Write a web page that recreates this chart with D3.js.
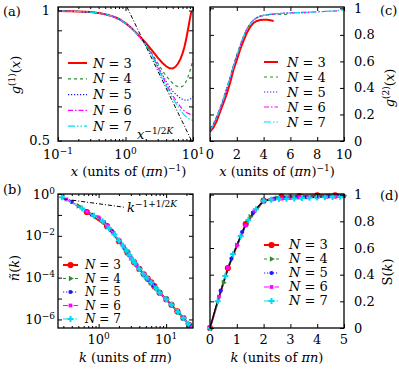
<!DOCTYPE html>
<html>
<head>
<meta charset="utf-8">
<script src="https://cdn.jsdelivr.net/npm/d3@7"></script>
<style>
body { margin: 0; background: #fff; }
svg text { font-family: "DejaVu Serif", serif; fill: #000; }
</style>
</head>
<body>
<svg id="fig" width="399" height="369"></svg>
<script>
// ---- data ----
var nList = [3, 4, 5, 6, 7];

// (a) one-body correlation g1(x), shared x grid
var g1X = [0.1,0.15,0.2,0.3,0.4,0.5,0.6,0.7,0.8,1,1.2,1.5,2,2.5,3,3.5,4,4.5,5,5.5,6,6.5,7,7.5,8,8.5,9,9.5,10];
var g1N3 = [0.997,0.996,0.995,0.992,0.987,0.98,0.973,0.965,0.956,0.935,0.914,0.883,0.842,0.807,0.778,0.757,0.743,0.735,0.734,0.741,0.754,0.772,0.796,0.826,0.865,0.91,0.958,0.997,null];
var g1N4 = [0.997,0.996,0.995,0.992,0.987,0.98,0.973,0.965,0.956,0.935,0.913,0.881,0.836,0.792,0.756,0.727,0.706,0.69,0.679,0.671,0.666,0.665,0.668,0.675,0.688,0.705,0.724,0.746,0.77];
var g1N5 = [0.997,0.996,0.995,0.992,0.987,0.98,0.973,0.965,0.956,0.935,0.913,0.881,0.834,0.789,0.747,0.712,0.686,0.666,0.651,0.641,0.633,0.627,0.623,0.621,0.62,0.621,0.623,0.627,0.632];
var g1N6 = [0.997,0.996,0.995,0.992,0.987,0.98,0.973,0.965,0.956,0.935,0.913,0.88,0.833,0.786,0.741,0.705,0.676,0.654,0.636,0.621,0.609,0.599,0.591,0.585,0.581,0.578,0.576,0.575,0.576];
var g1N7 = [0.997,0.996,0.995,0.992,0.987,0.98,0.973,0.965,0.956,0.935,0.913,0.88,0.832,0.784,0.738,0.701,0.671,0.647,0.628,0.612,0.599,0.588,0.579,0.572,0.567,0.563,0.56,0.558,0.557];
var g1Power = [[1.05, 1.019], [9.5, 0.5]];

// (c) pair correlation g2(x)
var g2X = [0,0.25,0.5,0.75,1,1.25,1.5,1.75,2,2.25,2.5,2.75,3,3.25,3.5,3.75,4,4.25,4.5,4.75,5,5.5,6,6.5,7,7.5,8,8.5,9,9.5,10];
var g2N3 = [0.07,0.1,0.15,0.22,0.285,0.355,0.44,0.535,0.61,0.69,0.755,0.815,0.86,0.89,0.905,0.912,0.914,0.913,0.91,0.905,null,null,null,null,null,null,null,null,null,null,null];
var g2N4 = [0.09,0.13,0.185,0.25,0.32,0.4,0.48,0.57,0.65,0.72,0.79,0.845,0.885,0.912,0.93,0.94,0.946,0.95,0.952,0.955,0.957,0.953,0.958,null,null,null,null,null,null,null,null];
var g2N5 = [0.085,0.125,0.18,0.245,0.315,0.395,0.475,0.565,0.645,0.72,0.788,0.843,0.884,0.912,0.93,0.941,0.948,0.952,0.955,0.957,0.959,0.962,0.965,0.967,0.965,0.968,null,null,null,null,null];
var g2N6 = [0.08,0.12,0.178,0.243,0.313,0.393,0.474,0.563,0.643,0.718,0.786,0.842,0.883,0.911,0.93,0.941,0.948,0.952,0.955,0.957,0.96,0.963,0.966,0.968,0.97,0.972,0.974,0.976,0.978,0.981,null];
var g2N7 = [0.08,0.12,0.177,0.242,0.312,0.392,0.473,0.562,0.642,0.717,0.785,0.841,0.882,0.91,0.929,0.94,0.947,0.951,0.954,0.956,0.959,0.962,0.965,0.967,0.969,0.971,0.973,0.976,0.979,0.983,0.988];

// (b) momentum distribution n(k)
var nkK3 = [0.667,1.333,2,2.667,3.333,4,4.667,5.333,6,6.667,8,10,12,14.67,18,22,24.67];
var nkV3 = [0.138,0.029,0.0055,0.0016,5.6e-4,2.6e-4,1.45e-4,8.9e-5,5.9e-5,3.9e-5,1.9e-5,9.3e-6,5e-6,2.45e-6,1.17e-6,5.4e-7,3.6e-7];
var nkK4 = [0.5,1,1.5,2,2.5,3,3.5,4,5,6,7,8,10,12,15,18,21,24.5];
var nkV4 = [0.27,0.074,0.02,0.006,0.0022,8.9e-4,4.5e-4,2.6e-4,1.1e-4,5.9e-5,3.2e-5,1.9e-5,9.3e-6,5e-6,2.3e-6,1.17e-6,6.5e-7,3.7e-7];
var nkK5 = [0.4,0.8,1.2,1.6,2,2.4,2.8,3.2,3.6,4,4.8,5.6,6.4,7.2,8,10,12,15.2,18.4,22,24.8];
var nkV5 = [0.42,0.1,0.045,0.016,0.006,0.0026,0.0012,6.6e-4,4.1e-4,2.6e-4,1.25e-4,7.2e-5,4.5e-5,2.9e-5,1.9e-5,9.3e-6,5e-6,2.2e-6,1.1e-6,5.4e-7,3.6e-7];
var nkK6 = [0.333,0.667,1,1.333,1.667,2,2.333,2.667,3,3.333,3.667,4,4.667,5.333,6,7,8,10,12,15,18,21.33,24.67];
var nkV6 = [0.55,0.14,0.075,0.03,0.0135,0.006,0.0031,0.0017,9e-4,5.7e-4,3.8e-4,2.6e-4,1.45e-4,9e-5,5.9e-5,3.2e-5,1.9e-5,9.3e-6,5e-6,2.3e-6,1.17e-6,6e-7,3.6e-7];
var nkK7 = [0.286,0.571,0.857,1.143,1.429,1.714,2,2.286,2.571,2.857,3.143,3.429,4,4.571,5.143,6,7.143,8,10,12,15,18,21.14,24.57];
var nkV7 = [0.7,0.2,0.09,0.05,0.023,0.0115,0.006,0.0034,0.002,0.0012,7.4e-4,5.1e-4,2.6e-4,1.55e-4,1e-4,5.9e-5,3e-5,1.9e-5,9.3e-6,5e-6,2.3e-6,1.17e-6,6.2e-7,3.7e-7];
var nkPower = [[0.3, 0.58], [2.45, 0.23]];

// (d) static structure factor S(k)
var skK3 = [0,0.667,1.333,2,2.667,3.333,4,4.667];
var skV3 = [0,0.45,0.78,0.955,0.985,0.99,0.995,0.995];
var skK4 = [0,0.5,1,1.5,2,2.5,3,3.5,4,4.5,5];
var skV4 = [0,0.34,0.62,0.835,0.955,0.975,0.985,0.985,0.99,0.99,0.992];
var skK5 = [0,0.4,0.8,1.2,1.6,2,2.4,2.8,3.2,3.6,4,4.4,4.8];
var skV5 = [0,0.28,0.52,0.72,0.865,0.955,0.97,0.975,0.98,0.982,0.985,0.987,0.99];
var skK6 = [0,0.333,0.667,1,1.333,1.667,2,2.333,2.667,3,3.333,3.667,4,4.333,4.667,5];
var skV6 = [0,0.235,0.45,0.62,0.77,0.88,0.955,0.965,0.97,0.975,0.978,0.98,0.982,0.984,0.986,0.988];
var skK7 = [0,0.286,0.571,0.857,1.143,1.429,1.714,2,2.286,2.571,2.857,3.143,3.429,3.714,4,4.286,4.571,4.857];
var skV7 = [0,0.2,0.39,0.555,0.69,0.81,0.89,0.955,0.962,0.967,0.97,0.972,0.975,0.977,0.979,0.981,0.983,0.985];
var skRefK = [0,0.25,0.5,0.75,1,1.25,1.5,1.75,2,2.5,3,3.5,4,4.5,5];
var skRefV = [0,0.18,0.34,0.49,0.62,0.74,0.83,0.9,0.955,0.965,0.972,0.978,0.982,0.986,0.99];

// ---- styles ----
var colorOf = {3: "#ff0000", 4: "#2e8b2e", 5: "#1a1aff", 6: "#ff00ff", 7: "#00dcec"};
var dashOf = {3: null, 4: "3,3", 5: "1.2,1.8", 6: "5,2,1.5,2", 7: "7,2,1.5,2,1.5,2"};
var widthOf = {3: 2, 4: 1.2, 5: 1.2, 6: 1.2, 7: 1.2};
var symOf = {
    3: d3.symbol().type(d3.symbolCircle).size(30),
    4: d3.symbol().type(d3.symbolTriangle).size(14),
    5: d3.symbol().type(d3.symbolCircle).size(14),
    6: d3.symbol().type(d3.symbolSquare).size(14),
    7: d3.symbol().type(d3.symbolCross).size(20)
};
var FONT = "DejaVu Serif";

var svg = d3.select("#fig");

// text with italic / superscript pieces
function rich(parent, x, y, parts, size, anchor) {
    var t = parent.append("text")
        .attr("x", x).attr("y", y)
        .attr("font-family", FONT)
        .style("font-size", size + "px")
        .attr("text-anchor", anchor || "start");
    var up = 0;
    parts.forEach(function (p) {
        var f = p[1] || "";
        var s = t.append("tspan").text(p[0]);
        var want = f.indexOf("s") >= 0 ? -Math.round(size * 0.42) : 0;
        if (want !== up) { s.attr("dy", want - up); up = want; }
        if (f.indexOf("s") >= 0) s.style("font-size", Math.round(size * 0.72) + "px");
        if (f.indexOf("i") >= 0) s.style("font-style", "italic");
    });
    return t;
}

function plain(x, y, str, anchor) {
    return svg.append("text").attr("x", x).attr("y", y)
        .attr("text-anchor", anchor || "start")
        .attr("font-family", FONT).style("font-size", fs + "px")
        .text(str);
}

function clean(g) {
    g.select(".domain").remove();
    g.selectAll(".tick line").attr("stroke", "#000").attr("stroke-width", 1);
}

// inward ticks on both sides of the frame
function ticksX(x, vals, y0, y1, len) {
    svg.append("g").attr("transform", "translate(0," + y1 + ")")
        .call(d3.axisBottom(x).tickValues(vals).tickSize(-len).tickFormat("")).call(clean);
    svg.append("g").attr("transform", "translate(0," + y0 + ")")
        .call(d3.axisTop(x).tickValues(vals).tickSize(-len).tickFormat("")).call(clean);
}
function ticksY(y, vals, x0, x1, len) {
    svg.append("g").attr("transform", "translate(" + x0 + ",0)")
        .call(d3.axisLeft(y).tickValues(vals).tickSize(-len).tickFormat("")).call(clean);
    svg.append("g").attr("transform", "translate(" + x1 + ",0)")
        .call(d3.axisRight(y).tickValues(vals).tickSize(-len).tickFormat("")).call(clean);
}

function frame(x0, x1, y0, y1) {
    svg.append("rect").attr("x", x0).attr("y", y0)
        .attr("width", x1 - x0).attr("height", y1 - y0)
        .attr("fill", "none").attr("stroke", "#000").attr("stroke-width", 1.3);
}

function clip(id, x0, x1, y0, y1) {
    svg.append("clipPath").attr("id", id).append("rect")
        .attr("x", x0).attr("y", y0).attr("width", x1 - x0).attr("height", y1 - y0);
    return svg.append("g").attr("clip-path", "url(#" + id + ")");
}

function styleLine(path, n) {
    path.attr("fill", "none").attr("stroke", colorOf[n])
        .attr("stroke-width", widthOf[n])
        .attr("stroke-dasharray", dashOf[n]);
}

function powLabel(exp) { return [["10", ""], [exp, "s"]]; }

var L = {x0: 58, x1: 193}, R = {x0: 210, x1: 344};
var T = {y0: 7, y1: 141}, B = {y0: 194, y1: 328};
var fs = 13;

// ================= (a) =================
var xa = d3.scaleLog().domain([0.1, 10]).range([L.x0, L.x1]);
var ya = d3.scaleLog().domain([0.499, 1.019]).range([T.y1, T.y0]);
var ga = clip("ca", L.x0, L.x1, T.y0, T.y1);
var g1Series = {3: g1N3, 4: g1N4, 5: g1N5, 6: g1N6, 7: g1N7};
var lineA = d3.line().defined(function (d) { return d[1] != null; })
    .x(function (d) { return xa(d[0]); }).y(function (d) { return ya(d[1]); });
nList.forEach(function (n) {
    styleLine(ga.append("path").datum(d3.zip(g1X, g1Series[n])).attr("d", lineA), n);
});
ga.append("path").datum(g1Power).attr("d", lineA)
    .attr("fill", "none").attr("stroke", "#000").attr("stroke-width", 1)
    .attr("stroke-dasharray", "4,2,1,2");

ticksX(xa, [0.1, 1, 10], T.y0, T.y1, 4);
ticksX(xa, xa.ticks().filter(function (v) { return [0.1, 1, 10].indexOf(v) < 0; }), T.y0, T.y1, 2);
ticksY(ya, [0.5, 0.6, 0.7, 0.8, 0.9, 1], L.x0, L.x1, 4);
frame(L.x0, L.x1, T.y0, T.y1);

[[0.1, "−1"], [1, "0"], [10, "1"]].forEach(function (d) {
    rich(svg, xa(d[0]), 159, powLabel(d[1]), fs, "middle");
});
plain(50, ya(1) + 4.5, "1", "end");
plain(50, ya(0.5) + 4.5, "0.5", "end");
rich(svg, 137, 139, [["x", "i"], ["−1/2", "s"], ["K", "si"]], fs);
rich(svg, (L.x0 + L.x1) / 2 + 3, 176, [["x", "i"], [" (units of (", ""], ["πn", "i"], [")", ""], ["−1", "s"], [")", ""]], fs, "middle");
rich(svg.append("g").attr("transform", "translate(16,75) rotate(-90)"), 0, 4,
    [["g", "i"], ["(1)", "s"], ["(", ""], ["x", "i"], [")", ""]], fs, "middle");
plain(3, 16, "(a)");

nList.forEach(function (n, i) {
    var yy = 63 + i * 15.8;
    styleLine(svg.append("line").attr("x1", 68).attr("x2", 87).attr("y1", yy).attr("y2", yy), n);
    rich(svg, 93, yy + 4.5, [["N", "i"], [" = " + n, ""]], fs);
});

// ================= (c) =================
var xc = d3.scaleLinear().domain([0, 10]).range([R.x0, R.x1]);
var yc = d3.scaleLinear().domain([0, 1.01]).range([T.y1, T.y0]);
var gc = clip("cc", R.x0, R.x1, T.y0, T.y1);
var g2Series = {3: g2N3, 4: g2N4, 5: g2N5, 6: g2N6, 7: g2N7};
var lineC = d3.line().defined(function (d) { return d[1] != null; })
    .x(function (d) { return xc(d[0]); }).y(function (d) { return yc(d[1]); });
nList.forEach(function (n) {
    styleLine(gc.append("path").datum(d3.zip(g2X, g2Series[n])).attr("d", lineC), n);
});
ticksX(xc, [0, 2, 4, 6, 8, 10], T.y0, T.y1, 4);
ticksY(yc, [0, 0.2, 0.4, 0.6, 0.8, 1], R.x0, R.x1, 4);
frame(R.x0, R.x1, T.y0, T.y1);
[0, 2, 4, 6, 8, 10].forEach(function (v) { plain(xc(v), 159, v, "middle"); });
[0, 0.2, 0.4, 0.6, 0.8, 1].forEach(function (v) { plain(354, yc(v) + 4.5, v); });
rich(svg, (R.x0 + R.x1) / 2, 176, [["x", "i"], [" (units of (", ""], ["πn", "i"], [")", ""], ["−1", "s"], [")", ""]], fs, "middle");
rich(svg.append("g").attr("transform", "translate(390,88) rotate(-90)"), 0, 4,
    [["g", "i"], ["(2)", "s"], ["(", ""], ["x", "i"], [")", ""]], fs, "middle");
plain(380, 15, "(c)");
nList.forEach(function (n, i) {
    var yy = 62 + i * 15;
    styleLine(svg.append("line").attr("x1", 264).attr("x2", 278).attr("y1", yy).attr("y2", yy), n);
    rich(svg, 287, yy + 4.5, [["N", "i"], [" = " + n, ""]], fs);
});

// ================= (b) =================
var xb = d3.scaleLog().domain([0.25, 25]).range([L.x0, L.x1]);
var yb = d3.scaleLog().domain([3.9e-7, 1]).range([B.y1, B.y0]);
var gb = clip("cb", L.x0, L.x1, B.y0, B.y1);
var nkSeries = {3: [nkK3, nkV3], 4: [nkK4, nkV4], 5: [nkK5, nkV5], 6: [nkK6, nkV6], 7: [nkK7, nkV7]};
var lineB = d3.line().x(function (d) { return xb(d[0]); }).y(function (d) { return yb(d[1]); });
nList.forEach(function (n) {
    var pts = d3.zip(nkSeries[n][0], nkSeries[n][1]);
    styleLine(gb.append("path").datum(pts).attr("d", lineB), n);
    gb.selectAll(null).data(pts).enter().append("path")
        .attr("d", symOf[n])
        .attr("transform", function (d) {
            return "translate(" + xb(d[0]) + "," + yb(d[1]) + ")" + (n == 4 ? " rotate(90)" : "");
        })
        .attr("fill", colorOf[n]);
});
gb.append("path").datum(nkPower).attr("d", lineB)
    .attr("fill", "none").attr("stroke", "#000").attr("stroke-width", 1)
    .attr("stroke-dasharray", "4,2,1,2");

var decadesB = [1, 1e-1, 1e-2, 1e-3, 1e-4, 1e-5, 1e-6];
ticksX(xb, [1, 10], B.y0, B.y1, 4);
ticksX(xb, xb.ticks().filter(function (v) { return v != 1 && v != 10; }), B.y0, B.y1, 2);
ticksY(yb, decadesB, L.x0, L.x1, 4);
frame(L.x0, L.x1, B.y0, B.y1);
[[1, "0"], [10, "1"]].forEach(function (d) {
    rich(svg, xb(d[0]), 344, powLabel(d[1]), fs, "middle");
});
[[1, "0"], [1e-2, "−2"], [1e-4, "−4"], [1e-6, "−6"]].forEach(function (d) {
    rich(svg, 55, yb(d[0]) + 4.5, powLabel(d[1]), fs, "end");
});
rich(svg, 127, 212, [["k", "i"], ["−1+1/2", "s"], ["K", "si"]], fs);
rich(svg, (L.x0 + L.x1) / 2, 362, [["k", "i"], [" (units of ", ""], ["πn", "i"], [")", ""]], fs, "middle");
rich(svg.append("g").attr("transform", "translate(15,268) rotate(-90)"), 0, 4,
    [["ñ", "i"], ["(", ""], ["k", "i"], [")", ""]], fs, "middle");
plain(3, 194, "(b)");

function legendMarks(x1, x2, tx, y0, dy, size) {
    nList.forEach(function (n, i) {
        var yy = y0 + i * dy;
        styleLine(svg.append("line").attr("x1", x1).attr("x2", x2).attr("y1", yy).attr("y2", yy), n);
        svg.append("path").attr("d", symOf[n])
            .attr("transform", "translate(" + ((x1 + x2) / 2) + "," + yy + ")" + (n == 4 ? " rotate(90)" : ""))
            .attr("fill", colorOf[n]);
        rich(svg, tx, yy + 4, [["N", "i"], [" = " + n, ""]], size);
    });
}
legendMarks(63, 78, 85, 265, 13.5, 12);

// ================= (d) =================
var xd = d3.scaleLinear().domain([0, 5]).range([R.x0, R.x1]);
var yd = d3.scaleLinear().domain([0, 1.005]).range([B.y1, B.y0]);
var gd = clip("cd", R.x0 - 4, R.x1 + 4, B.y0 - 4, B.y1 + 4);
var skSeries = {3: [skK3, skV3], 4: [skK4, skV4], 5: [skK5, skV5], 6: [skK6, skV6], 7: [skK7, skV7]};
var lineD = d3.line().x(function (d) { return xd(d[0]); }).y(function (d) { return yd(d[1]); });
nList.forEach(function (n) {
    styleLine(gd.append("path").datum(d3.zip(skSeries[n][0], skSeries[n][1])).attr("d", lineD), n);
});
gd.append("path").datum(d3.zip(skRefK, skRefV)).attr("d", lineD)
    .attr("fill", "none").attr("stroke", "#000").attr("stroke-width", 1.2);
nList.forEach(function (n) {
    gd.selectAll(null).data(d3.zip(skSeries[n][0], skSeries[n][1])).enter().append("path")
        .attr("d", symOf[n])
        .attr("transform", function (d) {
            return "translate(" + xd(d[0]) + "," + yd(d[1]) + ")" + (n == 4 ? " rotate(90)" : "");
        })
        .attr("fill", colorOf[n]);
});
ticksX(xd, [0, 1, 2, 3, 4, 5], B.y0, B.y1, 4);
ticksY(yd, [0, 0.2, 0.4, 0.6, 0.8, 1], R.x0, R.x1, 4);
frame(R.x0, R.x1, B.y0, B.y1);
[0, 1, 2, 3, 4, 5].forEach(function (v) { plain(xd(v), 344, v, "middle"); });
[0, 0.2, 0.4, 0.6, 0.8, 1].forEach(function (v) { plain(354, yd(v) + 4.5, v); });
rich(svg, (R.x0 + R.x1) / 2, 362, [["k", "i"], [" (units of ", ""], ["πn", "i"], [")", ""]], fs, "middle");
rich(svg.append("g").attr("transform", "translate(388,272) rotate(-90)"), 0, 4,
    [["S", ""], ["(", ""], ["k", "i"], [")", ""]], fs, "middle");
plain(380, 200, "(d)");
legendMarks(264, 279, 289, 245, 14, 13);
</script>
</body>
</html>
